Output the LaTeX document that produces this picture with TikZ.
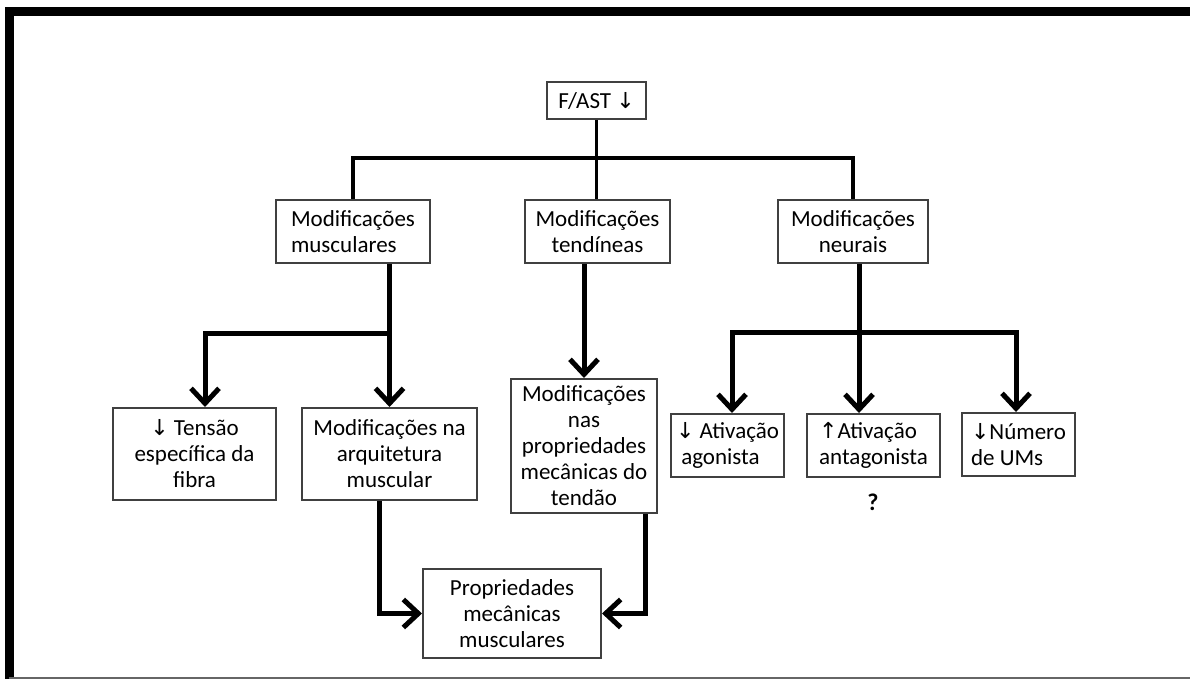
\documentclass[tikz,border=0pt]{standalone}
\usepackage{fontspec}
\setmainfont{Carlito}
\newfontfamily\symfont{DejaVu Sans}
\usetikzlibrary{arrows.meta}
\newcommand{\arrdn}{{\symfont\fontsize{22}{26}\selectfont ↓}}
\newcommand{\arrup}{{\symfont\fontsize{22}{26}\selectfont ↑}}
\begin{document}
\begin{tikzpicture}[x=1pt,y=-1pt,
 box/.style={draw=black!75, line width=2pt, inner sep=0pt, align=center, font=\fontsize{23}{26}\selectfont},
 lbox/.style={box, align=left},
 conn/.style={line width=3.5pt},
 arr/.style={line width=5pt, -{Straight Barb[length=15pt,width=28pt]}}]
\useasboundingbox (0,0) rectangle (1190,679);
\fill[white] (0,0) rectangle (1190,679);
% frame
\draw[line width=9pt] (9,679) -- (9,11.5) -- (1190,11.5);
\draw[black!60, line width=2pt] (9,677.5) -- (1190,677.5);
% nodes
\node[box, minimum width=99pt, minimum height=37pt] (fast) at (596.5,100.5) {F/AST \arrdn};
\node[lbox, minimum width=154pt, minimum height=63pt] (mm) at (353,231.5) {Modificações\\musculares};
\node[box, minimum width=145pt, minimum height=63pt] (mt) at (597.5,231.5) {Modificações\\tendíneas};
\node[box, minimum width=150pt, minimum height=63pt] (mn) at (853,231.5) {Modificações\\neurais};
\node[box, minimum width=163pt, minimum height=92pt] (ten) at (194.5,454) {\arrdn\ Tensão\\específica da\\fibra};
\node[box, minimum width=175pt, minimum height=92pt] (arq) at (389.5,454) {Modificações na\\arquitetura\\muscular};
\node[box, minimum width=146pt, minimum height=134pt] (tend) at (584,446) {Modificações\\nas\\propriedades\\mecânicas do\\tendão};
\node[box, minimum width=178pt, minimum height=89pt] (prop) at (512,613.5) {Propriedades\\mecânicas\\musculares};
\node[lbox, minimum width=113pt, minimum height=63pt] (ago) at (727.5,445.5) {\arrdn\ Ativação\\\ agonista};
\node[lbox, minimum width=133pt, minimum height=63pt] (ant) at (873.5,445.5) {\arrup Ativação\\antagonista};
\node[lbox, minimum width=113pt, minimum height=63pt] (ums) at (1018.5,444.5) {\arrdn Número\\de UMs};
\node[font=\bfseries\fontsize{24}{26}\selectfont] (q) at (873,502) {?};
% connectors
\coordinate (bar) at (596.5,158);
\draw[conn] (fast.south) -- (fast.south |- mt.north);
\draw[conn] (mm.north) |- (bar) -| (mn.north);
\coordinate (mb) at (389.5,333);
\draw[arr] (mm.south -| arq.north) -- (arq.north);
\draw[arr] (mb) -| ([xshift=10.5pt]ten.north);
\draw[arr] (mt.south -| tend.north) -- (tend.north);
\coordinate (nx) at (859,332);
\draw[arr] (mn.south -| nx) -- (ant.north -| nx);
\draw[arr] (nx) -| ([xshift=4.5pt]ago.north);
\draw[arr] (nx) -| ([xshift=-2.5pt]ums.north);
\draw[arr] ([xshift=-10.5pt]arq.south) |- (prop.west);
\draw[arr] ([xshift=61pt]tend.south) |- (prop.east);
\end{tikzpicture}
\end{document}
